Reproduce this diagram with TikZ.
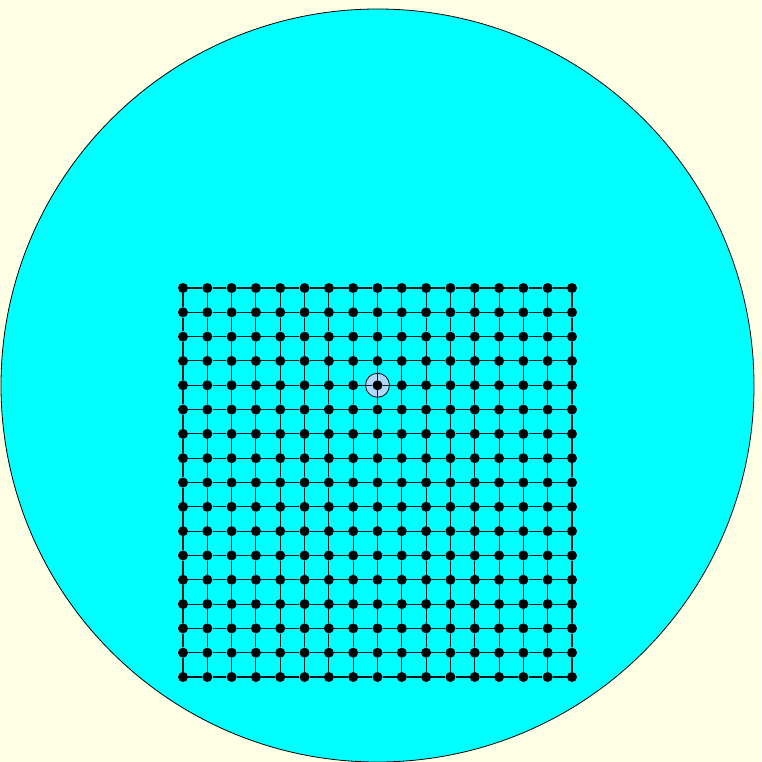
\documentclass[tikz,border=0pt]{standalone}
\usepackage{tikz}
\definecolor{paper}{RGB}{255,255,230}
\definecolor{disc}{RGB}{0,255,255}
\definecolor{mark}{RGB}{176,216,255}

\begin{document}
\begin{tikzpicture}[x=1pt, y=-1pt,
	dot/.style={circle, fill=black, inner sep=0pt, minimum size=10pt},
	link/.style={black!90, line width=1.1pt},
	ring/.style={circle, draw=black, fill=mark, line width=0.8pt, inner sep=0pt, minimum size=24pt}]
	\fill[paper] (0,0) rectangle (761,762);
	\useasboundingbox (0,0) rectangle (761,762);
	\begin{scope}
		\clip (0,0) rectangle (761,762);
		\draw[fill=disc, line width=0.8pt] (377.5,385.5) circle (376.5);
	\end{scope}
	% highlighted site
	\node[ring] (sel) at (377.5,385.25) {};
	% lattice sites
	\foreach \i in {0,...,16} {
		\foreach \j in {0,...,16} {
			\node[dot] (n-\i-\j) at ({183+24.3125*\i},{288+24.3125*\j}) {};
		}
	}
	% bonds
	\foreach \i in {0,...,16} {
		\foreach \j [count=\k from 1] in {0,...,15} {
			\draw[link] (n-\i-\j) -- (n-\i-\k);
			\draw[link] (n-\j-\i) -- (n-\k-\i);
		}
	}
\end{tikzpicture}
\end{document}
